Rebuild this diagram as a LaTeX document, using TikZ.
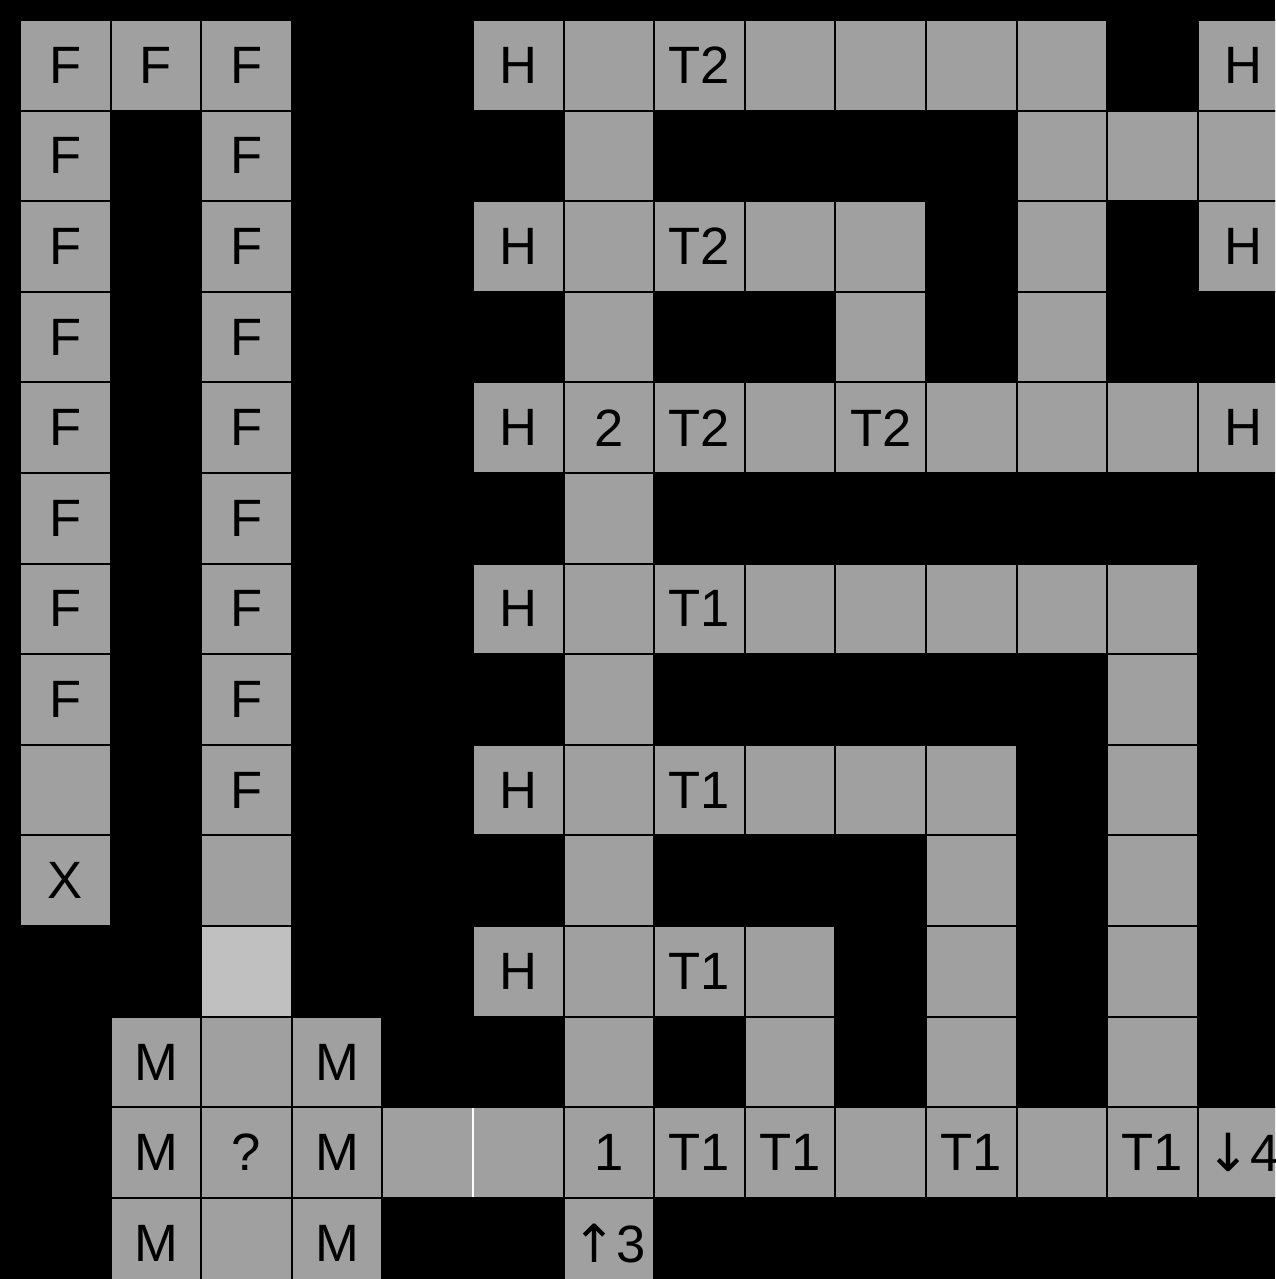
\documentclass[tikz,border=0pt]{standalone}
\usepackage{fontspec}
\setmainfont{Liberation Sans}
\newfontfamily\arrowfont{DejaVu Sans}
\definecolor{cellgray}{HTML}{A0A0A0}
\definecolor{lightgray}{HTML}{C0C0C0}
\begin{document}
\begin{tikzpicture}[font=\fontsize{16.5}{18}\selectfont]
\tikzstyle{cell}=[draw=black, line width=0.6pt, fill=cellgray, minimum width=1cm, minimum height=1cm, inner sep=0pt, outer sep=0pt]
\tikzstyle{pale}=[cell, fill=lightgray]
\useasboundingbox (-0.2207,0.2207) rectangle (13.852,-13.896);
\clip (-0.2207,0.2207) rectangle (13.852,-13.896);
\fill[black] (-0.2207,0.2207) rectangle (13.852,-13.896);

% left column pair
\node[cell] (r0c0) at (0.5,-0.5) {F}; \node[cell] (r0c1) at (1.5,-0.5) {F}; \node[cell] (r0c2) at (2.5,-0.5) {F};
\node[cell] (r1c0) at (0.5,-1.5) {F}; \node[cell] (r1c2) at (2.5,-1.5) {F};
\node[cell] (r2c0) at (0.5,-2.5) {F}; \node[cell] (r2c2) at (2.5,-2.5) {F};
\node[cell] (r3c0) at (0.5,-3.5) {F}; \node[cell] (r3c2) at (2.5,-3.5) {F};
\node[cell] (r4c0) at (0.5,-4.5) {F}; \node[cell] (r4c2) at (2.5,-4.5) {F};
\node[cell] (r5c0) at (0.5,-5.5) {F}; \node[cell] (r5c2) at (2.5,-5.5) {F};
\node[cell] (r6c0) at (0.5,-6.5) {F}; \node[cell] (r6c2) at (2.5,-6.5) {F};
\node[cell] (r7c0) at (0.5,-7.5) {F}; \node[cell] (r7c2) at (2.5,-7.5) {F};
\node[cell] (r8c0) at (0.5,-8.5) {}; \node[cell] (r8c2) at (2.5,-8.5) {F};
\node[cell] (r9c0) at (0.5,-9.5) {X}; \node[cell] (r9c2) at (2.5,-9.5) {};
\node[pale] (r10c2) at (2.5,-10.5) {};

% M block
\node[cell] (r11c1) at (1.5,-11.5) {M}; \node[cell] (r11c2) at (2.5,-11.5) {}; \node[cell] (r11c3) at (3.5,-11.5) {M};
\node[cell] (r12c1) at (1.5,-12.5) {M}; \node[cell] (r12c2) at (2.5,-12.5) {?}; \node[cell] (r12c3) at (3.5,-12.5) {M};
\node[cell] (r13c1) at (1.5,-13.5) {M}; \node[cell] (r13c2) at (2.5,-13.5) {}; \node[cell] (r13c3) at (3.5,-13.5) {M};

% upper T2 rows
\node[cell] (r0c5) at (5.5,-0.5) {H}; \node[cell] (r0c6) at (6.5,-0.5) {}; \node[cell] (r0c7) at (7.5,-0.5) {T2}; \node[cell] (r0c8) at (8.5,-0.5) {}; \node[cell] (r0c9) at (9.5,-0.5) {}; \node[cell] (r0c10) at (10.5,-0.5) {}; \node[cell] (r0c11) at (11.5,-0.5) {}; \node[cell] (r0c13) at (13.5,-0.5) {H};
\node[cell] (r1c6) at (6.5,-1.5) {}; \node[cell] (r1c11) at (11.5,-1.5) {}; \node[cell] (r1c12) at (12.5,-1.5) {}; \node[cell] (r1c13) at (13.5,-1.5) {};
\node[cell] (r2c5) at (5.5,-2.5) {H}; \node[cell] (r2c6) at (6.5,-2.5) {}; \node[cell] (r2c7) at (7.5,-2.5) {T2}; \node[cell] (r2c8) at (8.5,-2.5) {}; \node[cell] (r2c9) at (9.5,-2.5) {}; \node[cell] (r2c11) at (11.5,-2.5) {}; \node[cell] (r2c13) at (13.5,-2.5) {H};
\node[cell] (r3c6) at (6.5,-3.5) {}; \node[cell] (r3c9) at (9.5,-3.5) {}; \node[cell] (r3c11) at (11.5,-3.5) {};
\node[cell] (r4c5) at (5.5,-4.5) {H}; \node[cell] (r4c6) at (6.5,-4.5) {2}; \node[cell] (r4c7) at (7.5,-4.5) {T2}; \node[cell] (r4c8) at (8.5,-4.5) {}; \node[cell] (r4c9) at (9.5,-4.5) {T2}; \node[cell] (r4c10) at (10.5,-4.5) {}; \node[cell] (r4c11) at (11.5,-4.5) {}; \node[cell] (r4c12) at (12.5,-4.5) {}; \node[cell] (r4c13) at (13.5,-4.5) {H};
\node[cell] (r5c6) at (6.5,-5.5) {};

% lower T1 rows
\node[cell] (r6c5) at (5.5,-6.5) {H}; \node[cell] (r6c6) at (6.5,-6.5) {}; \node[cell] (r6c7) at (7.5,-6.5) {T1}; \node[cell] (r6c8) at (8.5,-6.5) {}; \node[cell] (r6c9) at (9.5,-6.5) {}; \node[cell] (r6c10) at (10.5,-6.5) {}; \node[cell] (r6c11) at (11.5,-6.5) {}; \node[cell] (r6c12) at (12.5,-6.5) {};
\node[cell] (r7c6) at (6.5,-7.5) {}; \node[cell] (r7c12) at (12.5,-7.5) {};
\node[cell] (r8c5) at (5.5,-8.5) {H}; \node[cell] (r8c6) at (6.5,-8.5) {}; \node[cell] (r8c7) at (7.5,-8.5) {T1}; \node[cell] (r8c8) at (8.5,-8.5) {}; \node[cell] (r8c9) at (9.5,-8.5) {}; \node[cell] (r8c10) at (10.5,-8.5) {}; \node[cell] (r8c12) at (12.5,-8.5) {};
\node[cell] (r9c6) at (6.5,-9.5) {}; \node[cell] (r9c10) at (10.5,-9.5) {}; \node[cell] (r9c12) at (12.5,-9.5) {};
\node[cell] (r10c5) at (5.5,-10.5) {H}; \node[cell] (r10c6) at (6.5,-10.5) {}; \node[cell] (r10c7) at (7.5,-10.5) {T1}; \node[cell] (r10c8) at (8.5,-10.5) {}; \node[cell] (r10c10) at (10.5,-10.5) {}; \node[cell] (r10c12) at (12.5,-10.5) {};
\node[cell] (r11c6) at (6.5,-11.5) {}; \node[cell] (r11c8) at (8.5,-11.5) {}; \node[cell] (r11c10) at (10.5,-11.5) {}; \node[cell] (r11c12) at (12.5,-11.5) {};

% bottom row
\node[cell, minimum width=2cm] (r12c4) at (5,-12.5) {}; \node[cell] (r12c6) at (6.5,-12.5) {1}; \node[cell] (r12c7) at (7.5,-12.5) {T1}; \node[cell] (r12c8) at (8.5,-12.5) {T1}; \node[cell] (r12c9) at (9.5,-12.5) {}; \node[cell] (r12c10) at (10.5,-12.5) {T1}; \node[cell] (r12c11) at (11.5,-12.5) {}; \node[cell] (r12c12) at (12.5,-12.5) {T1}; \node[cell] (r12c13) at (13.5,-12.5) {{\arrowfont ↓}4};
\node[cell] (r13c6) at (6.5,-13.5) {{\arrowfont ↑}3};
\draw[white, line width=0.5pt, shorten >=0.3pt, shorten <=0.3pt] (r12c4.north) -- (r12c4.south);
\end{tikzpicture}
\end{document}
